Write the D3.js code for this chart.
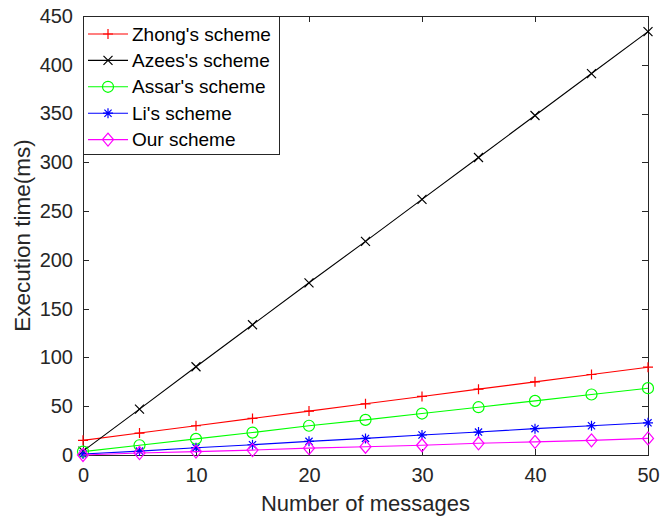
<!DOCTYPE html>
<meta charset="utf-8">
<style>
body {
  margin: 0;
  background-color: #ffffff;
}
svg text {
  font-family: "Liberation Sans", Arial, Helvetica, sans-serif;
}
.axis path,
.axis line {
  fill: none;
  stroke: #262626;
  stroke-width: 1px;
  shape-rendering: crispEdges;
}
.axis text {
  fill: #262626;
  font-size: 20px;
}
.line {
  fill: none;
  stroke-width: 1.1px;
}
</style>
<svg class="chart" width="661" height="518"></svg>

<script src="https://cdn.jsdelivr.net/npm/d3@7"></script>
<script>
// number of messages on the x axis
var messages = [0, 5, 10, 15, 20, 25, 30, 35, 40, 45, 50];

// execution time (ms)
var zhong = [15, 22.5, 30, 37.5, 45, 52.5, 60, 67.5, 75, 82.5, 90];
var azees = [4, 47, 90.5, 133.5, 176.5, 219, 262, 305, 348, 391, 434];
var assar = [3.5, 10, 16.5, 23, 30, 36, 42.5, 49, 55.5, 62, 68.5];
var li    = [1, 4, 7.5, 10.5, 14, 17, 20.5, 23.5, 27, 30, 33];
var ours  = [0, 2, 3.5, 5, 7, 8.5, 10, 12, 13.5, 15, 17];

var seriesNames = ["Zhong's scheme", "Azees's scheme", "Assar's scheme", "Li's scheme", "Our scheme"];
var xTicks = [0, 10, 20, 30, 40, 50];
var yTicks = [0, 50, 100, 150, 200, 250, 300, 350, 400, 450];

var series = [
  {name: seriesNames[0], values: zhong, color: "#ff0000", marker: "plus"},
  {name: seriesNames[1], values: azees, color: "#000000", marker: "cross"},
  {name: seriesNames[2], values: assar, color: "#00ff00", marker: "circle"},
  {name: seriesNames[3], values: li,    color: "#0000ff", marker: "star"},
  {name: seriesNames[4], values: ours,  color: "#ff00ff", marker: "diamond"}
];

var svg = d3.select(".chart"),
    margin = {top: 16, right: 13, bottom: 63, left: 83},
    width = 661 - margin.left - margin.right,
    height = 518 - margin.top - margin.bottom;

var x = d3.scaleLinear().domain([0, 50]).range([0, width]);
var y = d3.scaleLinear().domain([0, 450]).range([height, 0]);

var g = svg.append("g")
    .attr("transform", "translate(" + margin.left + "," + margin.top + ")");

// marker shapes, centred on 0,0
function markerPath(type) {
  var s;
  switch (type) {
    case "plus":
      s = 5;
      return "M" + -s + ",0H" + s + "M0," + -s + "V" + s;
    case "cross":
      s = 4.5;
      return "M" + -s + "," + -s + "L" + s + "," + s + "M" + -s + "," + s + "L" + s + "," + -s;
    case "circle":
      s = 5.5;
      return "M" + s + ",0A" + s + "," + s + " 0 1,1 " + -s + ",0A" + s + "," + s + " 0 1,1 " + s + ",0Z";
    case "star":
      s = 5;
      var d = s * 0.72;
      return "M" + -s + ",0H" + s + "M0," + -s + "V" + s +
             "M" + -d + "," + -d + "L" + d + "," + d + "M" + -d + "," + d + "L" + d + "," + -d;
    case "diamond":
      return "M0,-6.5L5.5,0L0,6.5L-5.5,0Z";
  }
}

// frame: bottom/left axes plus mirrored top/right
g.append("g")
    .attr("class", "axis")
    .attr("transform", "translate(0," + height + ")")
    .call(d3.axisBottom(x).tickValues(xTicks).tickSizeInner(-6).tickSizeOuter(0).tickPadding(13));

g.append("g")
    .attr("class", "axis")
    .call(d3.axisLeft(y).tickValues(yTicks).tickSizeInner(-6).tickSizeOuter(0).tickPadding(10));

g.append("g")
    .attr("class", "axis")
    .call(d3.axisTop(x).tickValues(xTicks).tickSizeInner(-6).tickSizeOuter(0).tickFormat(""));

g.append("g")
    .attr("class", "axis")
    .attr("transform", "translate(" + width + ",0)")
    .call(d3.axisRight(y).tickValues(yTicks).tickSizeInner(-6).tickSizeOuter(0).tickFormat(""));

var line = d3.line()
    .x(function(d, i) { return x(messages[i]); })
    .y(function(d) { return y(d); });

series.forEach(function(s) {
  g.append("path")
    .datum(s.values)
    .attr("class", "line")
    .attr("stroke", s.color)
    .attr("d", line);

  g.selectAll(null)
    .data(s.values)
    .enter().append("path")
    .attr("transform", function(d, i) { return "translate(" + x(messages[i]) + "," + y(d) + ")"; })
    .attr("d", markerPath(s.marker))
    .attr("fill", "none")
    .attr("stroke", s.color)
    .attr("stroke-width", 1.2);
});

// axis titles
svg.append("text")
    .attr("x", margin.left + width / 2)
    .attr("y", 511)
    .attr("text-anchor", "middle")
    .style("font-size", "22px")
    .style("fill", "#262626")
    .text("Number of messages");

svg.append("text")
    .attr("transform", "translate(30," + (margin.top + height / 2) + ") rotate(-90)")
    .attr("text-anchor", "middle")
    .style("font-size", "22.5px")
    .style("fill", "#262626")
    .text("Execution time(ms)");

// legend in the upper left corner
var legend = g.append("g");

legend.append("rect")
    .attr("x", 0)
    .attr("y", 0)
    .attr("width", 196)
    .attr("height", 138)
    .attr("fill", "#ffffff")
    .attr("stroke", "#262626")
    .attr("stroke-width", 1)
    .style("shape-rendering", "crispEdges");

var rows = legend.selectAll(".legendRow")
    .data(series)
  .enter().append("g")
    .attr("class", "legendRow")
    .attr("transform", function(d, i) { return "translate(0," + (18 + i * 26.4) + ")"; });

rows.append("line")
    .attr("x1", 5)
    .attr("x2", 45)
    .attr("stroke", function(d) { return d.color; })
    .attr("stroke-width", 1.1);

rows.append("path")
    .attr("transform", "translate(25,0)")
    .attr("d", function(d) { return markerPath(d.marker); })
    .attr("fill", "none")
    .attr("stroke", function(d) { return d.color; })
    .attr("stroke-width", 1.2);

rows.append("text")
    .attr("x", 49)
    .attr("dy", "0.35em")
    .style("font-size", "19px")
    .style("fill", "#000000")
    .text(function(d) { return d.name; });
</script>
